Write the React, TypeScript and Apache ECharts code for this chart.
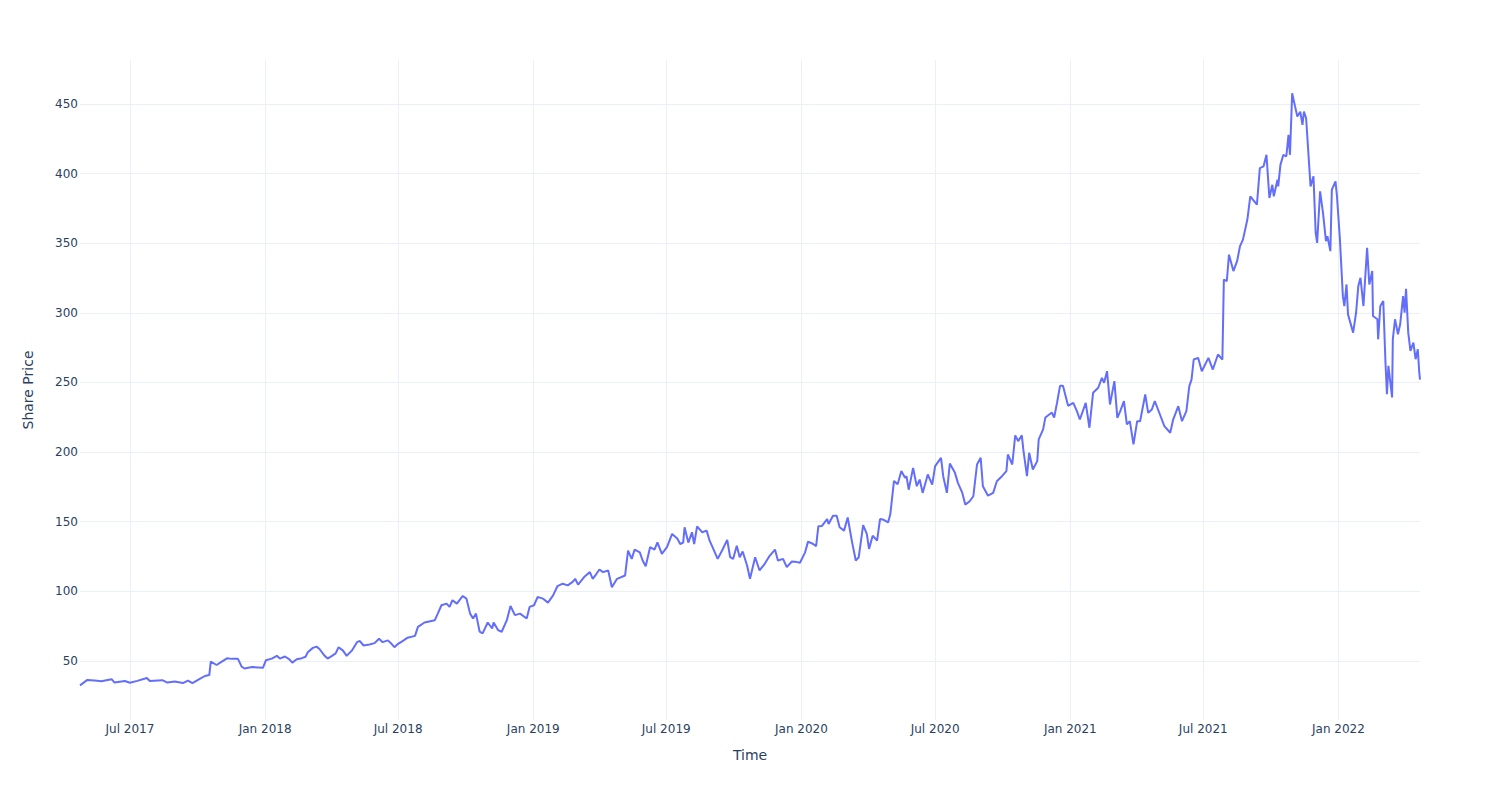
import React, { useEffect, useRef } from "react";
import * as echarts from "echarts";

const dates: string[] = [
  "2017-04-24","2017-05-04","2017-05-14","2017-05-23","2017-06-06","2017-06-10","2017-06-24","2017-07-01","2017-07-11","2017-07-24",
  "2017-07-28","2017-08-14","2017-08-21","2017-08-31","2017-09-11","2017-09-18","2017-09-24","2017-10-04","2017-10-11","2017-10-17",
  "2017-10-19","2017-10-27","2017-11-03","2017-11-10","2017-11-17","2017-11-25","2017-11-30","2017-12-04","2017-12-14","2017-12-29",
  "2018-01-02","2018-01-10","2018-01-17","2018-01-21","2018-01-28","2018-02-03","2018-02-07","2018-02-13","2018-02-20","2018-02-25",
  "2018-02-28","2018-03-07","2018-03-12","2018-03-16","2018-03-23","2018-03-27","2018-04-02","2018-04-07","2018-04-11","2018-04-17",
  "2018-04-22","2018-04-29","2018-05-06","2018-05-10","2018-05-15","2018-05-23","2018-05-30","2018-06-05","2018-06-10","2018-06-17",
  "2018-06-22","2018-06-26","2018-07-01","2018-07-07","2018-07-14","2018-07-24","2018-07-28","2018-08-06","2018-08-20","2018-08-24",
  "2018-08-29","2018-09-05","2018-09-09","2018-09-13","2018-09-19","2018-09-27","2018-10-02","2018-10-07","2018-10-11","2018-10-15",
  "2018-10-20","2018-10-24","2018-10-31","2018-11-06","2018-11-08","2018-11-14","2018-11-19","2018-11-26","2018-12-01","2018-12-07",
  "2018-12-14","2018-12-23","2018-12-27",
  "2019-01-02","2019-01-07","2019-01-14","2019-01-21","2019-01-28","2019-02-03","2019-02-10","2019-02-17","2019-02-24","2019-02-27",
  "2019-03-03","2019-03-12","2019-03-19","2019-03-23","2019-03-28","2019-04-01","2019-04-06","2019-04-13","2019-04-18","2019-04-25",
  "2019-05-06","2019-05-10","2019-05-15","2019-05-19","2019-05-26","2019-05-30","2019-06-03","2019-06-09","2019-06-15","2019-06-19",
  "2019-06-25","2019-07-02","2019-07-09","2019-07-16","2019-07-20","2019-07-24","2019-07-26","2019-07-31","2019-08-05","2019-08-08",
  "2019-08-12","2019-08-19","2019-08-25","2019-08-29","2019-09-02","2019-09-09","2019-09-15","2019-09-22","2019-09-26","2019-09-30",
  "2019-10-05","2019-10-09","2019-10-13","2019-10-19","2019-10-23","2019-10-30","2019-11-05","2019-11-12","2019-11-19","2019-11-26",
  "2019-11-30","2019-12-07","2019-12-12","2019-12-19","2019-12-26","2019-12-30",
  "2020-01-06","2020-01-10","2020-01-17","2020-01-21","2020-01-24","2020-01-29","2020-02-05","2020-02-07","2020-02-13","2020-02-18",
  "2020-02-22","2020-02-28","2020-03-04","2020-03-10","2020-03-15","2020-03-19","2020-03-25","2020-03-30","2020-04-02","2020-04-07",
  "2020-04-13","2020-04-17","2020-04-22","2020-04-28","2020-05-01","2020-05-06","2020-05-11","2020-05-16","2020-05-21","2020-05-23",
  "2020-05-26","2020-06-01","2020-06-06","2020-06-10","2020-06-14","2020-06-21","2020-06-27","2020-07-01","2020-07-09","2020-07-12",
  "2020-07-17","2020-07-21","2020-07-28","2020-08-01","2020-08-07","2020-08-11","2020-08-17","2020-08-22","2020-08-27","2020-09-01",
  "2020-09-04","2020-09-11","2020-09-18","2020-09-23","2020-09-30","2020-10-06","2020-10-08","2020-10-14","2020-10-18","2020-10-22",
  "2020-10-27","2020-10-29","2020-11-03","2020-11-06","2020-11-11","2020-11-17","2020-11-19","2020-11-25","2020-11-28","2020-12-07",
  "2020-12-10","2020-12-14","2020-12-18","2020-12-22","2020-12-29",
  "2021-01-05","2021-01-10","2021-01-14","2021-01-22","2021-01-27","2021-02-01","2021-02-08","2021-02-13","2021-02-16","2021-02-20",
  "2021-02-24","2021-03-02","2021-03-06","2021-03-10","2021-03-15","2021-03-19","2021-03-23","2021-03-28","2021-04-02","2021-04-06",
  "2021-04-13","2021-04-17","2021-04-22","2021-04-26","2021-05-03","2021-05-09","2021-05-17","2021-05-21","2021-05-28","2021-06-02",
  "2021-06-08","2021-06-12","2021-06-15","2021-06-18","2021-06-24","2021-06-29","2021-07-08","2021-07-14","2021-07-21","2021-07-27",
  "2021-07-29","2021-08-02","2021-08-05","2021-08-11","2021-08-16","2021-08-20","2021-08-24","2021-08-30","2021-09-03","2021-09-12",
  "2021-09-16","2021-09-21","2021-09-25","2021-09-29","2021-10-03","2021-10-05","2021-10-10","2021-10-11","2021-10-14","2021-10-18",
  "2021-10-22","2021-10-25","2021-10-27","2021-10-30","2021-11-03","2021-11-06","2021-11-10","2021-11-13","2021-11-15","2021-11-18",
  "2021-11-24","2021-11-28","2021-12-01","2021-12-03","2021-12-07","2021-12-11","2021-12-15","2021-12-17","2021-12-21","2021-12-23",
  "2021-12-28","2021-12-30",
  "2022-01-03","2022-01-07","2022-01-09","2022-01-12","2022-01-14","2022-01-21","2022-01-25","2022-01-28","2022-01-31","2022-02-04",
  "2022-02-06","2022-02-09","2022-02-12","2022-02-16","2022-02-17","2022-02-23","2022-02-24","2022-02-27","2022-03-03","2022-03-06",
  "2022-03-08","2022-03-10","2022-03-15","2022-03-16","2022-03-19","2022-03-23","2022-03-26","2022-03-30","2022-04-01","2022-04-03",
  "2022-04-06","2022-04-09","2022-04-13","2022-04-16","2022-04-19","2022-04-21","2022-04-22"
];

const prices: number[] = [
  32.5,36.4,35.9,35.4,36.9,34.5,35.6,34.4,35.7,37.8,
  35.6,36.2,34.5,35.2,34.1,35.9,34.1,37.1,39.2,39.9,
  49.5,47.1,49.5,51.9,51.5,51.5,45.9,44.6,45.6,45.1,
  50.5,51.7,53.7,51.7,53.2,51.2,48.8,51.2,52,53,
  56.2,59.4,60.3,58.6,53.7,51.7,53.7,55.4,59.9,57.4,
  53.7,57.4,63.5,64.3,61.1,61.8,62.8,66,63.5,64.8,
  62.3,59.9,62.3,64.3,66.7,68,74.5,77.6,79.3,84,
  90,91.2,88.8,93.6,91.2,96.7,94.8,84,80.5,84,
  71,69.8,77.6,73.3,77.6,72.2,71,79.3,89.5,82.9,
  84,80.5,88.8,
  90,96,94.8,91.9,97.1,103.8,105.5,104.3,107,109,
  104.8,110.7,113.8,109,112.6,115.7,113.8,115,103,109,
  111.4,129.3,123.3,130,128,122,118,131.7,130,135.2,
  126.9,131.7,141.2,138,134,135,146,135,142.4,134,
  146.7,142.4,143.6,136.4,131.7,123.3,129.3,137,124.5,123.3,
  132.8,124.5,128.6,118.6,109,124.5,115,119.8,125.7,130,
  122.1,123.3,117.4,121.4,121,120.5,
  128,135.7,134,132.4,146.7,147,151.9,148.3,154.3,154.3,
  146,143.6,153,135.2,122.1,124.5,147.6,141.2,130.5,140,
  136.4,151.9,151.4,149.5,155.5,179.3,176.9,186.4,181.6,182.7,
  173,188.7,175.5,180.3,170.7,183.9,176.7,189.9,195.9,182.7,
  170.7,191.8,185.1,177.9,170.7,162.3,164.7,168.3,191.1,195.9,
  175.5,168.7,170.7,179.1,182.7,186.3,198.3,191.1,212,207.9,
  212,201.9,182.7,199.5,187.5,193.5,209.1,216.3,224.8,228.4,
  224.8,235.6,247.6,247.6,233.2,
  235.4,229.4,223.4,235.4,217.5,242.6,246.2,253.3,249.8,258.1,
  234.2,251,224.6,229.4,236.6,219.9,222.2,205.5,222.2,222.2,
  241.4,228.2,230.6,236.6,227,218.7,213.9,223.4,233,222.2,
  229.4,247.4,252,266.5,267.7,258.1,267.7,259.3,270.1,266.5,
  323.9,322.7,341.8,330,337.1,347.9,352.6,367,383.7,377.7,
  404,405.2,413.5,382.5,392,383.7,395.6,390.8,406.3,413.5,
  412.3,427.8,413.5,457.7,448.1,441,444.5,435,444.5,439.8,
  390.8,398,357.4,350.3,387.3,371.7,351.5,355,344.3,388.4,
  394.4,383.7,
  352.6,312,304.9,320.4,298.9,285.8,300.1,319.2,325.2,304.9,
  321.6,346.7,320.4,330,297.7,295.4,281,304.9,308.5,264.3,
  241.6,261.9,239.3,281,295.4,284.6,291.8,312,300.1,317.3,
  285.8,272.7,278.6,266.7,273.9,257.2,252
];

const monthNames: string[] = ["Jan","Feb","Mar","Apr","May","Jun","Jul","Aug","Sep","Oct","Nov","Dec"];
const yRange: number[] = [7.6, 481.6];

const FONT = '"DejaVu Sans", Verdana, sans-serif';
const TEXT = "#2a3f5f";
const GRID = "#EBF0F8";

export default function App() {
  const ref = useRef<HTMLDivElement>(null);
  useEffect(() => {
    if (!ref.current) return;
    const chart = echarts.init(ref.current, null, { renderer: "svg" });
    const toTs = (s: string) => {
      const [y, m, d] = s.split("-").map(Number);
      return new Date(y, m - 1, d).getTime();
    };
    const data = dates.map((d, i) => [toTs(d), prices[i]]);
    chart.setOption({
      animation: false,
      backgroundColor: "#ffffff",
      textStyle: { fontFamily: FONT },
      grid: { left: 80, right: 80, top: 60, bottom: 80, containLabel: false },
      xAxis: {
        type: "time",
        min: toTs(dates[0]),
        max: toTs(dates[dates.length - 1]),
        splitNumber: 10,
        axisLine: { show: false },
        axisTick: { show: false },
        splitLine: { show: true, showMinLine: false, showMaxLine: false, lineStyle: { color: GRID, width: 1 } },
        axisLabel: {
          color: TEXT,
          fontSize: 12,
          fontFamily: FONT,
          margin: 3,
          showMinLabel: false,
          showMaxLabel: false,
          formatter: (v: number) => {
            const d = new Date(v);
            if (d.getDate() === 1 && (d.getMonth() === 0 || d.getMonth() === 6)) {
              return monthNames[d.getMonth()] + " " + d.getFullYear();
            }
            return "";
          },
        },
        name: "Time",
        nameLocation: "middle",
        nameGap: 28,
        nameTextStyle: { color: TEXT, fontSize: 14, fontFamily: FONT },
      },
      yAxis: {
        type: "value",
        min: yRange[0],
        max: yRange[1],
        splitNumber: 9,
        axisLine: { show: false },
        axisTick: { show: false },
        splitLine: { show: true, showMinLine: false, showMaxLine: false, lineStyle: { color: GRID, width: 1 } },
        axisLabel: {
          color: TEXT,
          fontSize: 12,
          fontFamily: FONT,
          margin: 2,
          showMinLabel: false,
          showMaxLabel: false,
          formatter: (v: number) => (Math.abs(v % 50) < 1e-6 ? String(v) : ""),
        },
        name: "Share Price",
        nameLocation: "middle",
        nameGap: 45,
        nameTextStyle: { color: TEXT, fontSize: 14, fontFamily: FONT },
      },
      series: [
        {
          type: "line",
          data,
          showSymbol: false,
          symbol: "none",
          lineStyle: { color: "#636efa", width: 2 },
          itemStyle: { color: "#636efa" },
        },
      ],
    });
    return () => chart.dispose();
  }, []);
  return (
    <div
      ref={ref}
      style={{ position: "fixed", left: 0, top: 0, width: 1500, height: 800, background: "#fff" }}
    />
  );
}
